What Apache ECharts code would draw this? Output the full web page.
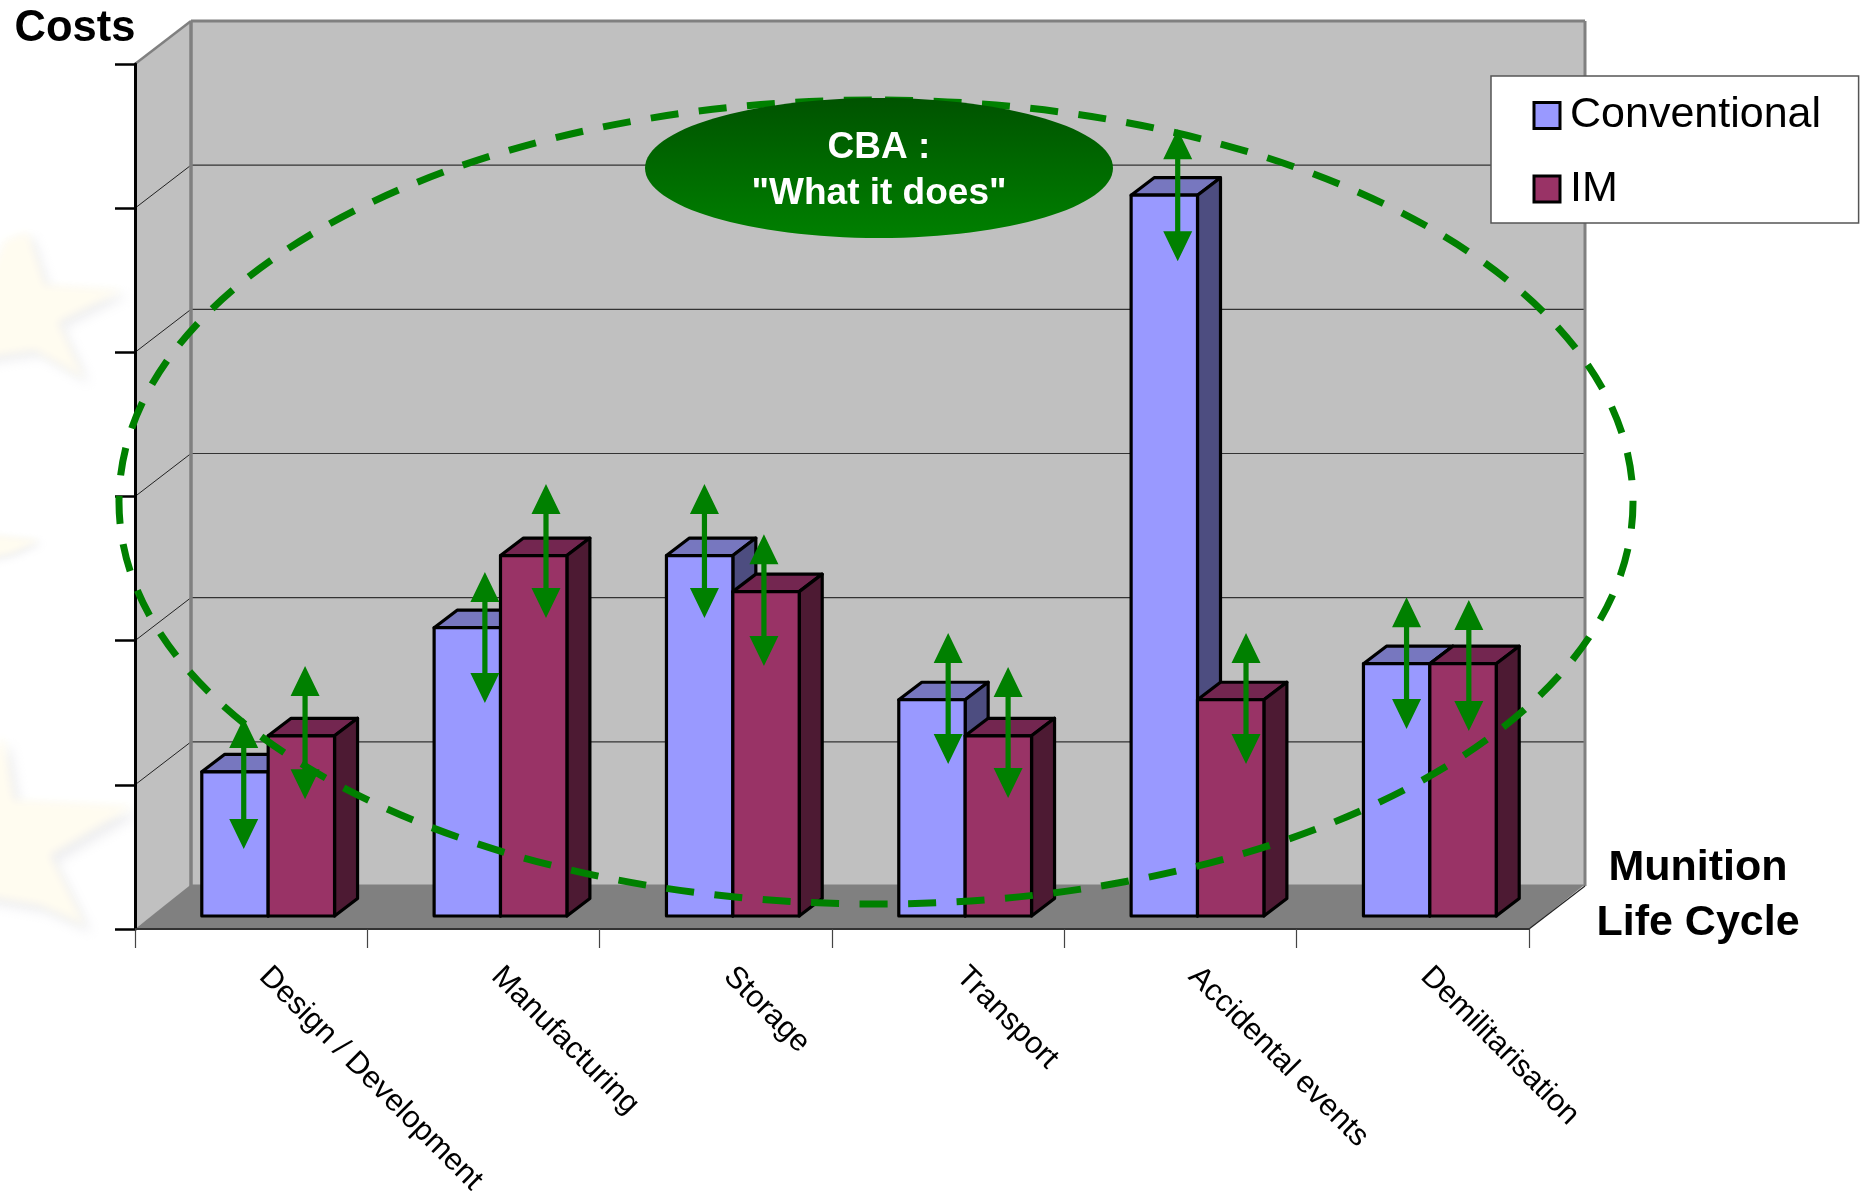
<!DOCTYPE html>
<html>
<head>
<meta charset="utf-8">
<title>Munition life cycle costs</title>
<style>html,body{margin:0;padding:0;background:#fff}#chart{width:1866px;height:1194px}</style>
<script src="https://cdn.jsdelivr.net/npm/echarts@6/dist/echarts.min.js"></script>
</head>
<body>
<div id="chart"></div>
<script>
const categories = ['Design / Development', 'Manufacturing', 'Storage', 'Transport', 'Accidental events', 'Demilitarisation'];
const conventional = [1, 2, 2.5, 1.5, 5, 1.75];
const im = [1.25, 2.5, 2.25, 1.25, 1.5, 1.75];
const valueTicks = [1, 2, 3, 4, 5];

// Spread of each cost estimate, shown as a double-headed arrow.
const conventionalLow = [0.555, 1.567, 2.157, 1.144, 4.632, 1.387];
const conventionalHigh = [1.463, 2.476, 3.086, 2.053, 5.548, 2.302];
const imLow = [0.9, 2.157, 1.824, 0.908, 1.144, 1.373];
const imHigh = [1.824, 3.086, 2.739, 1.817, 2.053, 2.282];
const conventionalShift = [-0.032, 0.006, -0.049, 0, -0.012, -0.027];
const imShift = [0.232, 0.269, 0.207, 0.258, 0.282, 0.241];

// Oblique projection of the box: wall depth, bar inset from the front edge, bar depth.
const WALL_DX = 56, WALL_DY = 43;
const INSET_DX = 17, INSET_DY = 13;
const BAR_DX = 23, BAR_DY = 17.5;
const GREEN = '#008000';
const SANS = '"Liberation Sans", Arial, sans-serif';

const poly = (points, style, z2) => ({ type: 'polygon', shape: { points }, style, z2: z2 || 0 });
const seg = (x1, y1, x2, y2, stroke, lineWidth, z2) => ({
  type: 'line', shape: { x1, y1, x2, y2 }, style: { stroke, lineWidth }, z2: z2 || 0
});

function renderBox(params, api) {
  const c = params.coordSys;
  const L = c.x, R = c.x + c.width, T = c.y, B = c.y + c.height;
  const bx = L + WALL_DX, brx = R + WALL_DX, dy = WALL_DY;
  const kids = [
    poly([[L, T], [bx, T - dy], [bx, B - dy], [L, B]], { fill: '#c0c0c0' }),
    poly([[bx, T - dy], [brx, T - dy], [brx, B - dy], [bx, B - dy]], { fill: '#c0c0c0' }),
    poly([[L, B], [bx, B - dy - 1.5], [brx, B - dy - 1.5], [R, B]], { fill: '#808080' }, 1)
  ];
  valueTicks.forEach(v => {
    const y = api.coord([0, v])[1];
    kids.push(seg(L, y, bx, y - dy, '#222', 1, 1));
    kids.push(seg(bx, y - dy, brx, y - dy, '#333', 1.2, 1));
  });
  kids.push(seg(L, T, bx, T - dy, '#808080', 2.5, 2));
  kids.push(seg(bx, T - dy, brx, T - dy, '#808080', 3, 2));
  kids.push(seg(bx, T - dy, bx, B - dy, '#808080', 3.5, 2));
  kids.push(seg(brx, T - dy, brx, B - dy, '#808080', 3, 2));
  kids.push(seg(R, B, brx, B - dy, '#222', 1.2, 2));
  return { type: 'group', children: kids };
}

function barRenderer(side, front, top, flank) {
  return function (params, api) {
    const cat = api.value(0);
    const p = api.coord([cat, api.value(1)]);
    const base = api.coord([cat, 0])[1] - INSET_DY;
    const w = api.size([1, 0])[0] / 3.5;
    const x0 = p[0] + INSET_DX + (side === 'left' ? -w : 0);
    const x1 = x0 + w;
    const y0 = p[1] - INSET_DY;
    const edge = { stroke: '#000', lineWidth: 3.2, lineJoin: 'round' };
    return {
      type: 'group',
      children: [
        poly([[x0, y0], [x0 + BAR_DX, y0 - BAR_DY], [x1 + BAR_DX, y0 - BAR_DY], [x1, y0]], { fill: top, ...edge }),
        poly([[x1, y0], [x1 + BAR_DX, y0 - BAR_DY], [x1 + BAR_DX, base - BAR_DY], [x1, base]], { fill: flank, ...edge }),
        poly([[x0, y0], [x1, y0], [x1, base], [x0, base]], { fill: front, ...edge })
      ]
    };
  };
}

function renderArrow(params, api) {
  const cat = api.value(0);
  const band = api.size([1, 0])[0];
  const hi = api.coord([cat, api.value(2)]);
  const lo = api.coord([cat, api.value(1)]);
  const x = hi[0] + api.value(3) * band;
  const s = 2.6, hw = 14.5, hl = 30;
  return poly([
    [x, hi[1]], [x + hw, hi[1] + hl], [x + s, hi[1] + hl],
    [x + s, lo[1] - hl], [x + hw, lo[1] - hl], [x, lo[1]],
    [x - hw, lo[1] - hl], [x - s, lo[1] - hl], [x - s, hi[1] + hl], [x - hw, hi[1] + hl]
  ], { fill: GREEN });
}

const pairs = values => values.map((v, i) => [i, v]);
const arrowRows = (low, high, shift) => low.map((v, i) => [i, v, high[i], shift[i]]);

// Faint backdrop stars: the shape sits off-canvas and only its blurred shadow lands on the page.
const OFF = 3000;
function star(points, color, blur, dx, dy) {
  return {
    type: 'polygon', z: 0, silent: true,
    shape: { points: points.map(p => [p[0] - OFF, p[1]]) },
    style: { fill: '#000', shadowBlur: blur, shadowColor: color, shadowOffsetX: OFF + dx, shadowOffsetY: dy }
  };
}
const starTop = [[-20, 300], [5, 240], [28, 232], [45, 285], [123, 290], [58, 322], [84, 378], [35, 350], [-20, 358]];
const starMid = [[-20, 534], [40, 540], [12, 553], [-20, 560]];
const starLow = [[-20, 780], [3, 735], [14, 800], [133, 806], [50, 855], [85, 925], [40, 905], [-20, 895]];
const GREY_TINT = 'rgba(226,226,230,0.6)', YELLOW_TINT = '#fffcf0';

const chart = echarts.init(document.getElementById('chart'), null, { renderer: 'canvas' });
chart.setOption({
  animation: false,
  backgroundColor: '#fff',
  grid: { left: 135, right: 337, top: 64, bottom: 265, outerBoundsMode: 'none' },
  xAxis: {
    type: 'category', data: categories, z: 6,
    axisLine: { lineStyle: { color: '#333', width: 2 } },
    axisTick: { show: true, length: 19, lineStyle: { color: '#444', width: 1.2 } },
    axisLabel: { rotate: -45, interval: 0, margin: 30, padding: [0, 0, 0, 18], color: '#000', fontFamily: SANS, fontSize: 30.7 }
  },
  yAxis: {
    type: 'value', min: 0, max: 6, interval: 1, z: 6,
    axisLine: { show: true, lineStyle: { color: '#000', width: 3 } },
    axisTick: { show: true, length: 20, lineStyle: { color: '#000', width: 2.5 } },
    axisLabel: { show: false }, splitLine: { show: false }
  },
  legend: {
    orient: 'vertical', left: 1491, top: 76, z: 40,
    padding: [18, 37.6, 12.6, 41.5], itemWidth: 26, itemHeight: 26, itemGap: 30.4,
    backgroundColor: '#fff', borderColor: '#555', borderWidth: 1.5,
    textStyle: { color: '#000', fontFamily: SANS, fontSize: 43, padding: [10, 0, 0, 5] },
    selectedMode: false,
    data: [
      { name: 'Conventional', icon: 'rect', itemStyle: { color: '#9999ff', borderColor: '#000', borderWidth: 3 } },
      { name: 'IM', icon: 'rect', itemStyle: { color: '#993366', borderColor: '#000', borderWidth: 3 } }
    ]
  },
  series: [
    { type: 'custom', name: 'box', z: 1, silent: true, renderItem: renderBox, data: [[0, 0]], encode: { x: 0, y: 1 } },
    { type: 'custom', name: 'Conventional', z: 10, silent: true, itemStyle: { color: '#9999ff' },
      renderItem: barRenderer('left', '#9999ff', '#7777bf', '#4d4d80'), data: pairs(conventional), encode: { x: 0, y: 1 } },
    { type: 'custom', name: 'IM', z: 11, silent: true, itemStyle: { color: '#993366' },
      renderItem: barRenderer('right', '#993366', '#732650', '#4d1a33'), data: pairs(im), encode: { x: 0, y: 1 } },
    { type: 'custom', name: 'conventional range', z: 12, silent: true, renderItem: renderArrow,
      data: arrowRows(conventionalLow, conventionalHigh, conventionalShift), encode: { x: 0, y: [1, 2] } },
    { type: 'custom', name: 'IM range', z: 12, silent: true, renderItem: renderArrow,
      data: arrowRows(imLow, imHigh, imShift), encode: { x: 0, y: [1, 2] } }
  ],
  graphic: [
    star(starTop, GREY_TINT, 12, 6, 6),
    star(starTop, YELLOW_TINT, 9, 0, 0),
    star(starMid, GREY_TINT, 8, 3, 3),
    star(starMid, YELLOW_TINT, 6, 0, 0),
    star(starLow, GREY_TINT, 12, 7, 8),
    star(starLow, YELLOW_TINT, 9, 0, 0),
    {
      // Rotated a quarter turn so the dash pattern starts and ends at the top of the ring.
      type: 'ellipse', z: 30, silent: true,
      originX: 876, originY: 502, rotation: -Math.PI / 2,
      shape: { cx: 876, cy: 502, rx: 402, ry: 757 },
      style: { fill: null, stroke: GREEN, lineWidth: 7, lineDash: [28, 20.5], lineDashOffset: 39.5 }
    },
    {
      type: 'ellipse', z: 31, silent: true,
      shape: { cx: 879, cy: 168, rx: 234, ry: 70 },
      style: {
        fill: new echarts.graphic.LinearGradient(0, 0, 0, 1, [
          { offset: 0, color: '#005300' }, { offset: 1, color: '#008000' }
        ])
      }
    },
    { type: 'text', z: 32, silent: true, x: 879, y: 148,
      style: { text: 'CBA :', font: 'bold 37px ' + SANS, fill: '#fff', align: 'center', verticalAlign: 'middle' } },
    { type: 'text', z: 32, silent: true, x: 879, y: 194,
      style: { text: '"What it does"', font: 'bold 37px ' + SANS, fill: '#fff', align: 'center', verticalAlign: 'middle' } },
    { type: 'text', z: 32, silent: true, x: 75, y: 29,
      style: { text: 'Costs', font: 'bold 43.5px ' + SANS, fill: '#000', align: 'center', verticalAlign: 'middle' } },
    { type: 'text', z: 32, silent: true, x: 1698, y: 868,
      style: { text: 'Munition', font: 'bold 43px ' + SANS, fill: '#000', align: 'center', verticalAlign: 'middle' } },
    { type: 'text', z: 32, silent: true, x: 1698, y: 923,
      style: { text: 'Life Cycle', font: 'bold 43px ' + SANS, fill: '#000', align: 'center', verticalAlign: 'middle' } }
  ]
});
</script>
</body>
</html>
